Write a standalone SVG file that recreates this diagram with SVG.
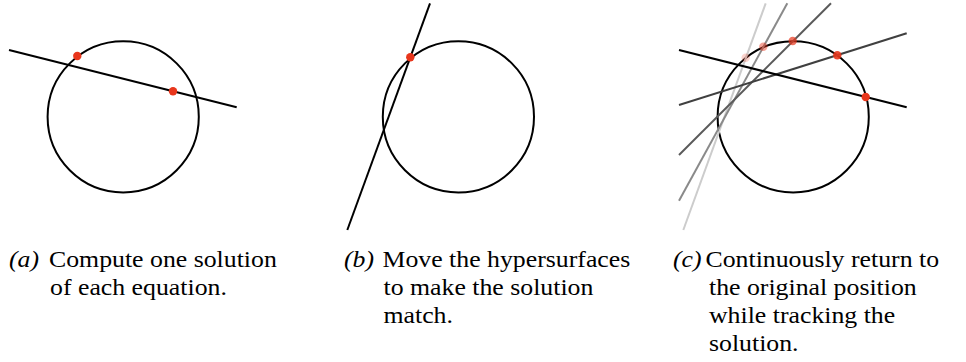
<svg xmlns="http://www.w3.org/2000/svg" width="966" height="362" viewBox="0 0 966 362">
<style>
.circ{fill:none;stroke:#000;stroke-width:2}
.ln{fill:none;stroke-width:2;stroke-linecap:butt}
.dot{fill:#e8361c}
</style>
<rect width="966" height="362" fill="#fff"/>
<g id="panel-a">
  <circle class="circ" cx="123.2" cy="116.8" r="75.6"/>
  <line class="ln" stroke="#000" x1="9" y1="50" x2="236.7" y2="107.3"/>
  <circle class="dot" cx="77.3" cy="56" r="4.2"/>
  <circle class="dot" cx="173" cy="91.3" r="4.2"/>
</g>
<g id="panel-b">
  <circle class="circ" cx="458.4" cy="116.8" r="75.6"/>
  <line class="ln" stroke="#000" x1="347.3" y1="230" x2="430" y2="3.3"/>
  <circle class="dot" cx="410.3" cy="57.3" r="4.2"/>
</g>
<g id="panel-c">
  <circle class="circ" cx="793.2" cy="116.8" r="75.6"/>
  <line class="ln" stroke="#cccccc" x1="683.3" y1="230" x2="765.7" y2="3.3"/>
  <line class="ln" stroke="#8a8a8a" x1="679" y1="200.7" x2="787.3" y2="3.3"/>
  <line class="ln" stroke="#5a5a5a" x1="679" y1="155" x2="831" y2="3.3"/>
  <line class="ln" stroke="#404040" x1="679" y1="105" x2="906.7" y2="33.3"/>
  <line class="ln" stroke="#000" x1="679" y1="50" x2="906.7" y2="107.3"/>
  <circle class="dot" cx="745.7" cy="57.7" r="4.2" opacity="0.22"/>
  <circle class="dot" cx="763.3" cy="46.7" r="4.2" opacity="0.45"/>
  <circle class="dot" cx="792.7" cy="41" r="4.2" opacity="0.7"/>
  <circle class="dot" cx="837.3" cy="55.3" r="4.2" opacity="0.9"/>
  <circle class="dot" cx="865.7" cy="97" r="4.2"/>
</g>
<g id="caption-a">
  <text font-family="Liberation Serif" font-size="24" font-style="italic" transform="translate(9 267) scale(1.07 1)">(a)</text>
  <text font-family="Liberation Serif" font-size="24" transform="translate(49 267) scale(1.075 1)">Compute one solution</text>
  <text font-family="Liberation Serif" font-size="24" transform="translate(50 295) scale(1.075 1)">of each equation.</text>
</g>
<g id="caption-b">
  <text font-family="Liberation Serif" font-size="24" font-style="italic" transform="translate(344 267) scale(1.07 1)">(b)</text>
  <text font-family="Liberation Serif" font-size="24" transform="translate(382.5 267) scale(1.075 1)">Move the hypersurfaces</text>
  <text font-family="Liberation Serif" font-size="24" transform="translate(383.5 295) scale(1.075 1)">to make the solution</text>
  <text font-family="Liberation Serif" font-size="24" transform="translate(383.5 323) scale(1.075 1)">match.</text>
</g>
<g id="caption-c">
  <text font-family="Liberation Serif" font-size="24" font-style="italic" transform="translate(673 267) scale(1.07 1)">(c)</text>
  <text font-family="Liberation Serif" font-size="24" transform="translate(705.5 267) scale(1.075 1)">Continuously return to</text>
  <text font-family="Liberation Serif" font-size="24" transform="translate(709 295) scale(1.075 1)">the original position</text>
  <text font-family="Liberation Serif" font-size="24" transform="translate(709 323) scale(1.075 1)">while tracking the</text>
  <text font-family="Liberation Serif" font-size="24" transform="translate(709 351) scale(1.075 1)">solution.</text>
</g>
</svg>
